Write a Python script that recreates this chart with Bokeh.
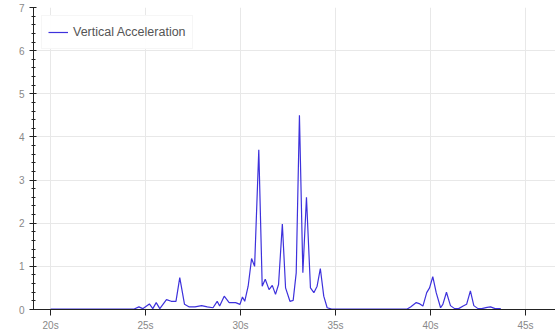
from bokeh.plotting import figure
from bokeh.models import ColumnDataSource, Range1d, SingleIntervalTicker, PrintfTickFormatter
from bokeh.embed import file_html
from bokeh.resources import INLINE

# time (s) and vertical acceleration values
t = [20.0, 21.0, 22.0, 23.0, 24.0, 24.4, 24.65, 24.85, 25.2, 25.38, 25.56, 25.75, 26.1, 26.35,
     26.6, 26.8, 27.05, 27.3, 27.6, 27.95, 28.25, 28.55, 28.77, 28.9, 29.14, 29.4, 29.74,
     29.97, 30.1, 30.22, 30.4, 30.58, 30.74, 30.96, 31.14, 31.3, 31.5, 31.67, 31.84, 32.0,
     32.2, 32.37, 32.6, 32.77, 32.93, 33.1, 33.28, 33.47, 33.68, 33.86, 34.03, 34.2, 34.38,
     34.56, 34.8, 35.5, 36.5, 37.5, 38.5, 38.77, 38.95, 39.25, 39.44, 39.6, 39.8, 39.95,
     40.12, 40.3, 40.53, 40.65, 40.84, 41.05, 41.27, 41.48, 41.72, 41.9, 42.1, 42.28, 42.5,
     42.7, 42.98, 43.16, 43.4, 43.7]
acc = [0.01, 0.01, 0.01, 0.01, 0.01, 0.01, 0.06, 0.02, 0.13, 0.02, 0.16, 0.02, 0.23, 0.19,
       0.19, 0.74, 0.12, 0.06, 0.06, 0.09, 0.06, 0.04, 0.19, 0.08, 0.31, 0.16, 0.16,
       0.12, 0.29, 0.19, 0.54, 1.18, 1.0, 3.7, 0.54, 0.70, 0.46, 0.56, 0.35, 0.58,
       1.98, 0.5, 0.19, 0.21, 0.85, 4.5, 0.85, 2.6, 0.5, 0.39, 0.54, 0.95, 0.31,
       0.04, 0.01, 0.01, 0.01, 0.01, 0.01, 0.01, 0.06, 0.16, 0.13, 0.08, 0.39, 0.5,
       0.76, 0.39, 0.04, 0.12, 0.4, 0.09, 0.02, 0.02, 0.08, 0.12, 0.43, 0.09, 0.02,
       0.02, 0.05, 0.06, 0.02, 0.02]

src = ColumnDataSource(data=dict(t=t, acc=acc))

p = figure(output_backend="svg", toolbar_location=None,
           frame_width=522, frame_height=302,
           x_range=Range1d(19.1, 46.58), y_range=Range1d(0, 7),
           min_border_left=33, min_border_top=7, min_border_right=0, min_border_bottom=0)
p.outline_line_color = None

p.line("t", "acc", source=src, line_color="#3d31dc", line_width=1.2,
       legend_label="Vertical Acceleration")

p.xaxis.ticker = SingleIntervalTicker(interval=5)
p.xaxis.formatter = PrintfTickFormatter(format="%ds")
p.yaxis.ticker = SingleIntervalTicker(interval=1, num_minor_ticks=5)

for ax in (p.xaxis[0], p.yaxis[0]):
    ax.axis_line_color = "#222222"
    ax.major_tick_line_color = "#222222"
    ax.minor_tick_line_color = "#222222"
    ax.major_label_text_color = "#888888"
    ax.major_label_text_font = "Arial"
    ax.major_label_text_font_size = "10px"

p.xaxis.major_tick_in = 0
p.xaxis.major_tick_out = 6
p.xaxis.minor_tick_out = 0
p.xaxis.minor_tick_in = 0
p.xaxis.major_label_standoff = 4

p.yaxis.major_tick_in = 3
p.yaxis.major_tick_out = 4
p.yaxis.minor_tick_in = 2
p.yaxis.minor_tick_out = 2
p.yaxis.major_label_standoff = 5

p.grid.grid_line_color = "#e8e8e8"

p.legend.location = "top_left"
p.legend.label_text_font = "Arial"
p.legend.label_text_font_size = "12.5px"
p.legend.label_text_color = "#555555"
p.legend.border_line_color = "#eeeeee"
p.legend.margin = 8
p.legend.padding = 6
p.legend.glyph_width = 20

open("out.html", "w").write(file_html(p, INLINE))
